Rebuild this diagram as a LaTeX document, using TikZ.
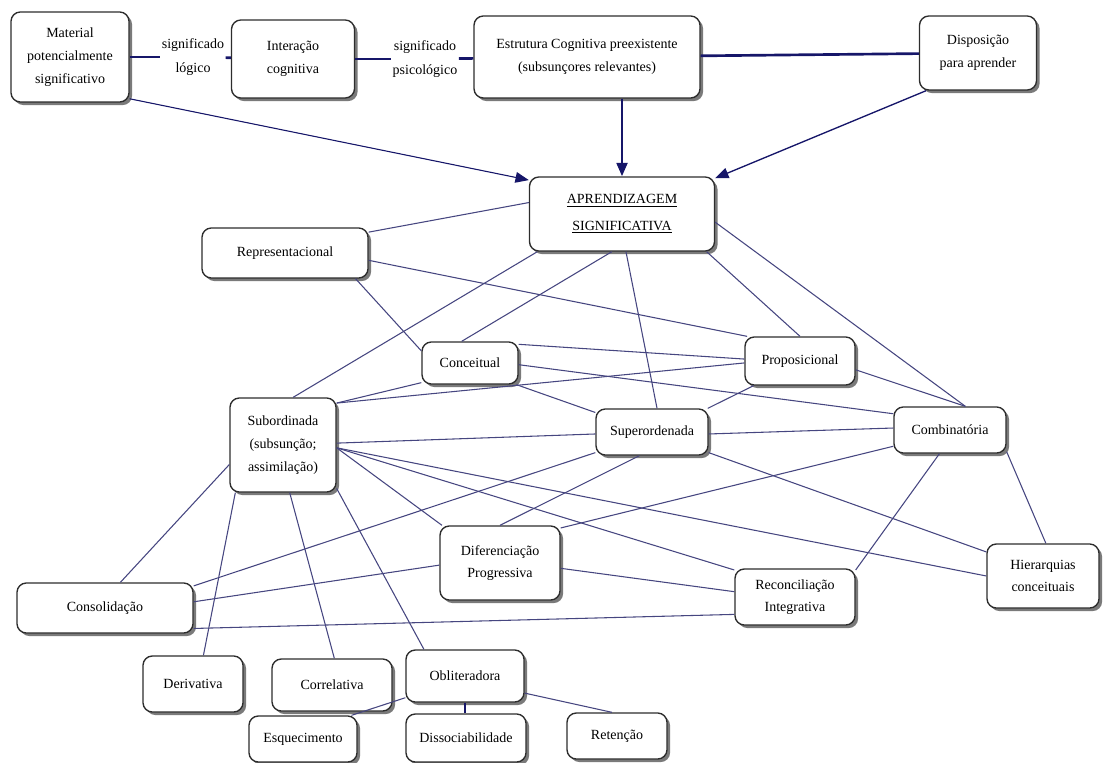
\documentclass[tikz,border=0pt]{standalone}
\usepackage{fontspec}
\setmainfont{Liberation Serif}
\usetikzlibrary{arrows.meta,shadows}
\definecolor{navy}{RGB}{22,22,105}
\definecolor{thinc}{RGB}{70,70,128}
\definecolor{bord}{RGB}{45,45,45}
\begin{document}
\begin{tikzpicture}[x=0.75pt,y=-0.75pt,
  cbox/.style={draw=bord, line width=1pt, rounded corners=7pt, fill=white, align=center,
    drop shadow={shadow xshift=2.3pt, shadow yshift=-2.3pt, fill=black!65, opacity=0.8},
    inner sep=2pt, font=\fontsize{10.5}{17}\selectfont},
  sz/.style 2 args={minimum width=#1*0.75pt, minimum height=#2*0.75pt},
  lbl/.style={align=center, inner sep=1pt, font=\fontsize{10.5}{18}\selectfont},
  thk/.style={draw=navy, line width=2pt},
  thn/.style={draw=thinc, line width=0.8pt},
  arr/.style={-{Triangle[length=10pt,width=8pt]}, draw=navy, fill=navy}]
\useasboundingbox (0,0) rectangle (1115,763);

% top row
\node[cbox,sz={118}{90}] (mat) at (70,57) {Material\\potencialmente\\significativo};
\node[lbl] (lg) at (193,57) {significado\\lógico};
\node[cbox,sz={123}{78}] (int) at (293,59) {Interação\\cognitiva};
\node[lbl] (ps) at (425,59) {significado\\psicológico};
\node[cbox,sz={226}{82}] (est) at (587,57) {Estrutura Cognitiva preexistente\\(subsunçores relevantes)};
\node[cbox,sz={117}{74}] (dis) at (978,53) {Disposição\\para aprender};
\node[cbox,sz={185}{74}] (apr) at (622,214) {\underline{APRENDIZAGEM}\\[3pt]\underline{SIGNIFICATIVA}};

% middle
\node[cbox,sz={166}{50}] (rep) at (285,253) {Representacional};
\node[cbox,sz={96}{42}] (con) at (470,363) {Conceitual};
\node[cbox,sz={110}{48}] (pro) at (800,361) {Proposicional};
\node[cbox,sz={106}{94}] (sub) at (283,445) {Subordinada\\(subsunção;\\assimilação)};
\node[cbox,sz={112}{46}] (sup) at (652,432) {Superordenada};
\node[cbox,sz={112}{46}] (com) at (950,430) {Combinatória};
\node[cbox,sz={120}{74}] (dif) at (500,563) {Diferenciação\\Progressiva};
\node[cbox,sz={120}{56}] (rec) at (795,597) {Reconciliação\\Integrativa};
\node[cbox,sz={112}{64}] (hie) at (1043,576) {Hierarquias\\conceituais};
\node[cbox,sz={176}{50}] (cso) at (105,608) {Consolidação};

% bottom
\node[cbox,sz={100}{56}] (der) at (193,684) {Derivativa};
\node[cbox,sz={120}{52}] (cor) at (332,685) {Correlativa};
\node[cbox,sz={118}{52}] (obl) at (465,676) {Obliteradora};
\node[cbox,sz={108}{46}] (esq) at (303,739) {Esquecimento};
\node[cbox,sz={120}{48}] (dss) at (466,738) {Dissociabilidade};
\node[cbox,sz={100}{46}] (ret) at (617,736) {Retenção};

% top thick connectors
\draw[thk] (mat.east) -- (lg);
\draw[thk] (lg) -- (int);
\draw[thk] (int) -- (ps);
\draw[thk] (ps) -- (est);
\draw[thk] (est) -- (dis);

% arrows into APRENDIZAGEM
\draw[arr, line width=0.8pt] (mat.325) -- (apr.160);
\draw[arr, line width=2pt] (est.south -| apr.north) -- (apr.north);
\draw[arr, line width=1pt] (dis.216) -- (apr.21);

% thin connectors
\draw[thn] (apr.173) -- (rep.14);
\draw[thn] (apr.204) -- (sub.78);
\draw[thn] (apr.255) -- (con.111);
\draw[thn] (apr.276) -- (sup.78);
\draw[thn] (apr.336) -- (pro.90);
\draw[thn] (apr.355) -- (com.57);
\draw[thn] (rep.355) -- (pro.155);
\draw[thn] (rep.340) -- (con.166);
\draw[thn] (con.21) -- (pro.178);
\draw[thn] (con.358) -- (com.164);
\draw[thn] (con.335) -- (sup.161);
\draw[thn] (sub.38) -- (con.202);
\draw[thn] (sub.38) -- (pro.182);
\draw[thn] (sup.23) -- (pro.208);
\draw[thn] (pro.351) -- (com.57);
\draw[thn] (sup.358) -- (com.178);
\draw[thn] (sub.2) -- (sup.182);
\draw[thn] (sub.357) -- (dif.147);
\draw[thn] (sub.357) -- (rec.156);
\draw[thn] (sub.357) -- (hie.180);
\draw[thn] (sup.242) -- (dif.90);
\draw[thn] (com.196) -- (dif.30);
\draw[thn] (sup.340) -- (hie.157);
\draw[thn] (com.246) -- (rec.24);
\draw[thn] (com.339) -- (hie.85);
\draw[thn] (dif.355) -- (rec.175);
\draw[thn] (cso.59) -- (sub.200);
\draw[thn] (cso.14) -- (sup.200);
\draw[thn] (cso.4) -- (dif.182);
\draw[thn] (cso.347) -- (rec.196);
\draw[thn] (sub.225) -- (der.70);
\draw[thn] (sub.278) -- (cor.85);
\draw[thn] (sub.321) -- (obl.147);
\draw[thn] (obl.200) -- (esq.26);
\draw[thk] (obl.south) -- (obl.south |- dss.north);
\draw[thn] (obl.344) -- (ret.102);
\end{tikzpicture}
\end{document}
